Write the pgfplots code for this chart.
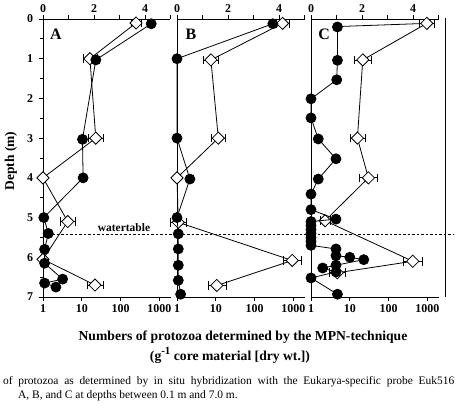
\documentclass[border=0pt]{standalone}
\usepackage{pgfplots}
\pgfplotsset{compat=1.18}
\usepackage{pgfplotstable}
\usepackage{fontspec}
\setmainfont{Liberation Serif}

% diamonds: in situ hybridization (top, linear axis)
\pgfplotstableread{
x y e
3.65 0.10 0.20
1.84 1.00 0.27
2.07 3.00 0.30
0.00 4.00 0.00
0.97 5.10 0.30
0.00 6.05 0.00
2.04 6.70 0.32
}\Adia
\pgfplotstableread{
x y e
4.14 0.11 0.25
1.33 1.03 0.30
1.62 3.00 0.28
0.00 4.00 0.00
0.05 5.12 0.30
4.52 6.08 0.35
1.56 6.71 0.35
}\Bdia
\pgfplotstableread{
x y e
4.54 0.11 0.30
2.03 1.03 0.35
1.82 3.00 0.30
2.25 4.00 0.35
0.55 5.08 0.20
3.99 6.10 0.36
1.03 6.39 0.30
}\Cdia
% circles: MPN (bottom, log axis)
\pgfplotstableread{
x y
615 0.12
23 1.03
10.4 3.03
10.8 4.00
1.05 5.00
1.37 5.40
1.1 5.80
1.1 6.15
3.2 6.55
1.1 6.65
2.15 6.75
}\Acir
\pgfplotstableread{
x y
295 0.12
1 1.00
1 3.00
2.15 4.03
1 5.00
1.08 5.41
1.08 5.79
1.08 6.20
1.08 6.58
1.24 6.93
}\Bcir
\pgfplotstableread{
x y
4.8 0.20
4.8 1.04
4.6 1.53
1 2.01
1 2.49
1.54 3.02
4.4 3.52
1.54 4.03
1 4.41
1 4.80
4.4 5.04
1 5.10
1 5.20
1 5.30
1 5.40
1 5.50
1 5.60
1 5.70
4.4 5.79
4.4 5.96
10 6.00
22.9 6.06
4.4 6.20
2 6.27
4.4 6.37
1 6.52
4.8 6.93
}\Ccir

\pgfplotsset{
  panel/.style={scale only axis, width=127.5bp, height=278bp, anchor=north west,
    clip=false, ymin=0, ymax=7, y dir=reverse,
    axis line style={line width=0.8pt}, tick style={line width=0.8pt, black},
    tick align=outside, major tick length=4bp, minor tick length=2.5bp,
    ticklabel style={font=\bfseries\fontsize{12}{13}\selectfont}},
  lin/.style={panel, xmin=0, xmax=5, axis x line*=top, axis y line*=left,
    xtick={0,1,2,3,4,5}, xticklabels={0,,2,,4,}, xticklabel style={yshift=-1bp}},
  lg/.style={panel, xmin=1, xmax=1930, axis x line*=bottom, axis y line=none,
    xtick={1,10,100,1000}, xticklabels={1,10,100,1000}, xminorticks=false},
  dia/.style={black, line width=0.8pt, mark=square*, mark size=4.3bp,
    mark options={rotate=45, fill=white, draw=black, line width=0.8pt},
    error bars/.cd, x dir=both, x explicit,
    error bar style={line width=0.8pt, black}},
  cir/.style={black, line width=0.8pt, mark=*, mark size=5bp,
    mark options={fill=black, draw=black}},
}

\begin{document}
\begin{tikzpicture}
\useasboundingbox (0,0) rectangle (456bp,-420bp);

% ---------- Panel A ----------
\begin{axis}[lin, at={(43bp,-19bp)}, ytick={0,...,7}, minor y tick num=1,
    yticklabel style={xshift=-2.5bp},
    /pgf/number format/assume math mode=true]
  \addplot[dia] table[x=x, y=y, x error=e] {\Adia};
  \node[font=\bfseries\fontsize{16}{16}\selectfont] at (axis cs:0.51,0.38) {A};
\end{axis}
\begin{axis}[xmode=log, lg, at={(43bp,-19bp)}]
  \addplot[cir] table[x=x, y=y] {\Acir};
\end{axis}

% ---------- Panel B ----------
\begin{axis}[lin, at={(177bp,-19bp)}, ytick=\empty]
  \addplot[dia] table[x=x, y=y, x error=e] {\Bdia};
  \node[font=\bfseries\fontsize{16}{16}\selectfont] at (axis cs:0.55,0.38) {B};
\end{axis}
\begin{axis}[xmode=log, lg, at={(177bp,-19bp)}]
  \addplot[cir] table[x=x, y=y] {\Bcir};
\end{axis}

% ---------- Panel C ----------
\begin{axis}[lin, at={(311bp,-19bp)}, ytick=\empty]
  \addplot[black, line width=0.8pt, no marks] coordinates {(1.05,0.19) (4.54,0.11)};
  \addplot[dia] table[x=x, y=y, x error=e] {\Cdia};
  \node[font=\bfseries\fontsize{16}{16}\selectfont] at (axis cs:0.51,0.38) {C};
\end{axis}
\begin{axis}[xmode=log, lg, at={(311bp,-19bp)}]
  \addplot[cir] table[x=x, y=y] {\Ccir};
\end{axis}

% right frame line
\draw[line width=0.8pt] (445bp,-18bp) -- (445bp,-297bp);

% watertable
\draw[line width=0.8pt, dash pattern=on 2.5bp off 2bp] (43bp,-234bp) -- (453bp,-234bp);
\node[font=\bfseries\fontsize{11.5}{12}\selectfont] at (124bp,-227.5bp) {watertable};

% axis titles
\node[rotate=90, font=\bfseries\fontsize{13.5}{15}\selectfont] at (11bp,-161bp) {Depth (m)};
\node[font=\bfseries\fontsize{13.7}{15}\selectfont] at (243bp,-337bp) {Numbers of protozoa determined by the MPN-technique};
\node[font=\bfseries\fontsize{13.7}{15}\selectfont] at (230bp,-355bp) {(g\raisebox{0.45em}{\fontsize{11}{11}\selectfont -1} core material [dry wt.])};

% caption remnants
\node[anchor=base west, inner sep=0pt, font=\fontsize{11.5}{13}\selectfont] at (3bp,-384bp) {\makebox[451bp][s]{of protozoa as determined by in situ hybridization with the Eukarya-specific probe Euk516}};
\node[anchor=base west, inner sep=0pt, font=\fontsize{11.5}{13}\selectfont] at (18bp,-398bp) {A, B, and C at depths between 0.1 m and 7.0 m.};
\end{tikzpicture}
\end{document}
